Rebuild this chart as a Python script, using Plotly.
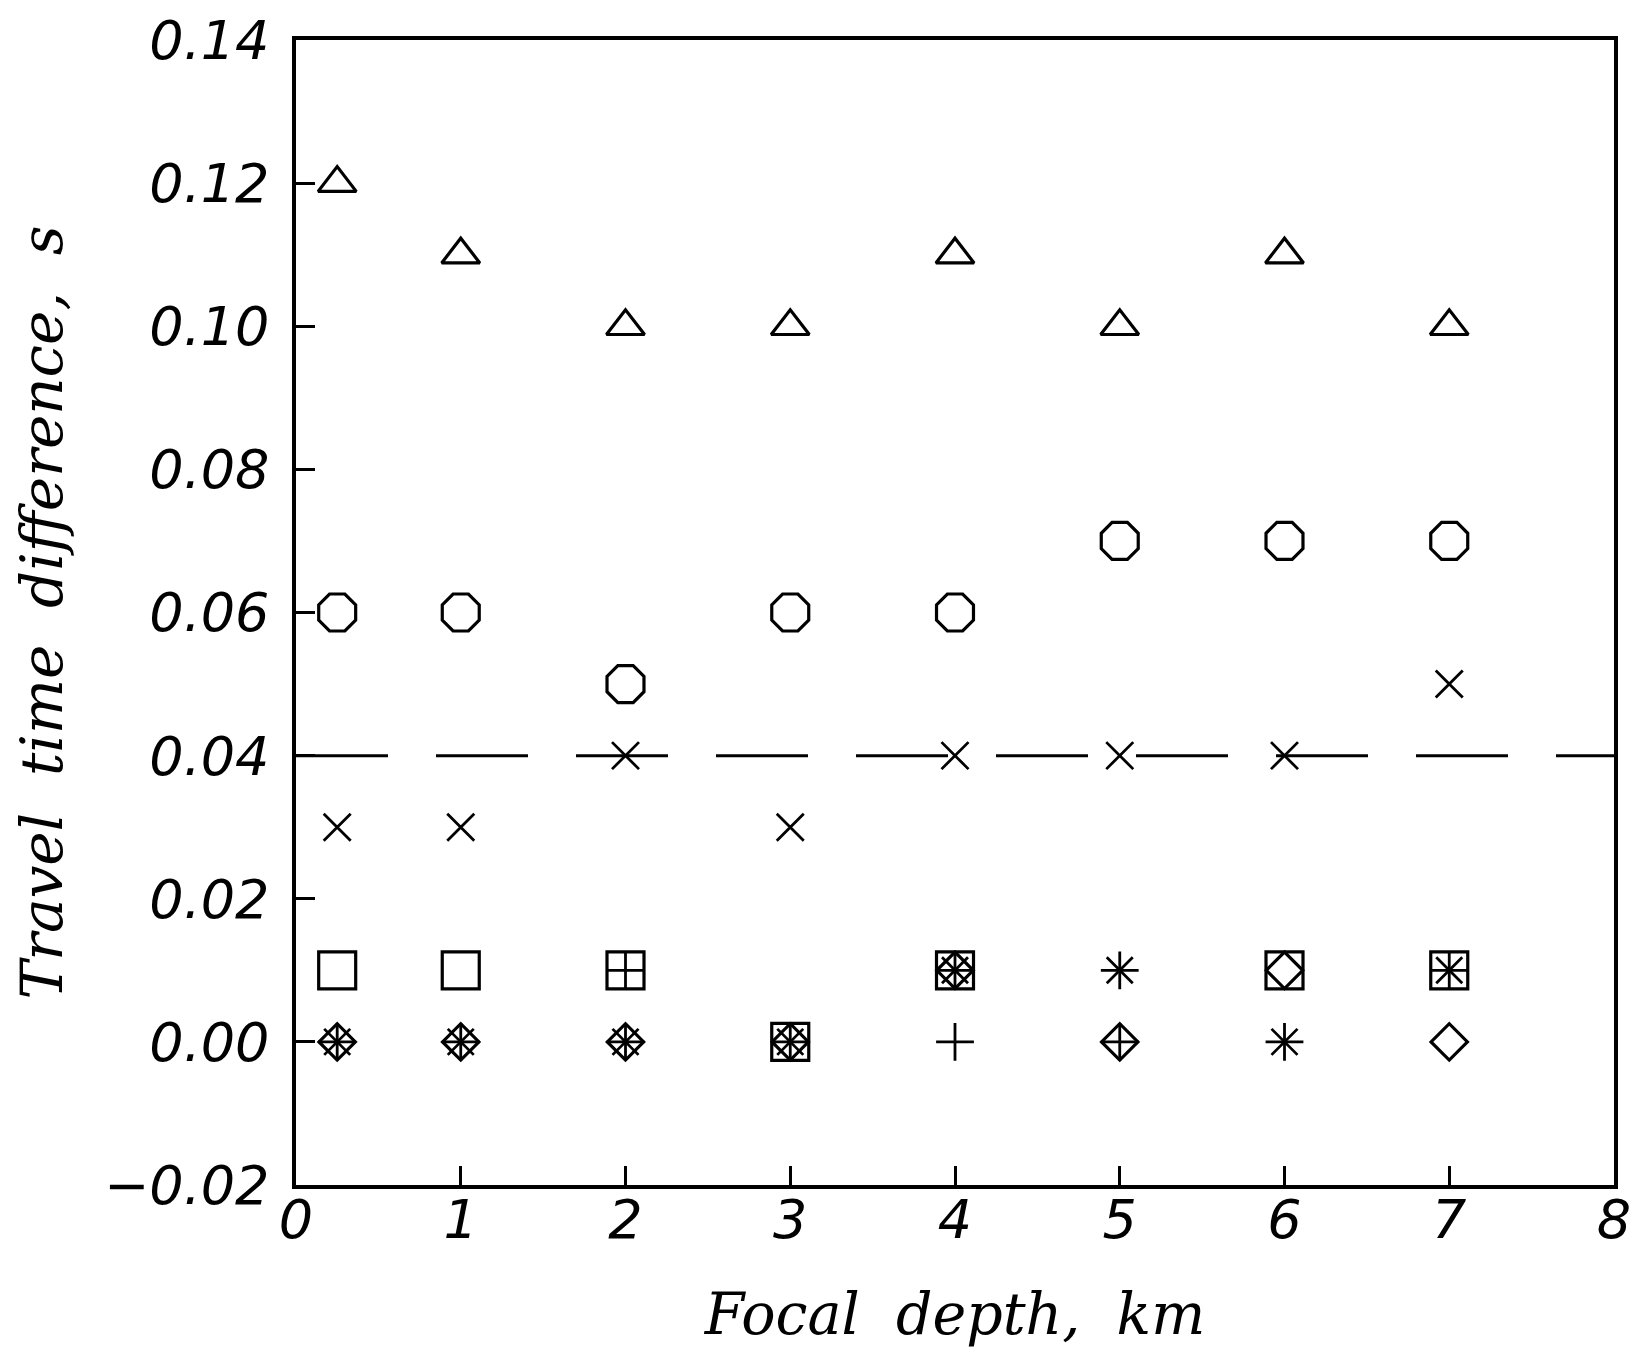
import plotly.graph_objects as go

# ---------------------------- data -----------------------

# focal depths (km) of the trial hypocentres
depth = [0.25, 1, 2, 3, 4, 5, 6, 7]

# travel time differences (s), one list per station symbol
dt_triangle = [0.12, 0.11, 0.10, 0.10, 0.11, 0.10, 0.11, 0.10]
dt_octagon = [0.06, 0.06, 0.05, 0.06, 0.06, 0.07, 0.07, 0.07]
dt_cross = [0.03, 0.03, 0.04, 0.03, 0.04, 0.04, 0.04, 0.05]

# stations with small differences (symbols pile up near zero)
square_depth = [0.25, 1, 2, 3, 4, 6, 7]
square_dt = [0.01, 0.01, 0.01, 0.00, 0.01, 0.01, 0.01]

plus_depth = [0.25, 1, 2, 2, 3, 4, 4, 5, 5, 6, 7]
plus_dt = [0.00, 0.00, 0.01, 0.00, 0.00, 0.01, 0.00, 0.01, 0.00, 0.00, 0.01]

xmark_depth = [0.25, 1, 2, 3, 4, 5, 6, 7]
xmark_dt = [0.00, 0.00, 0.00, 0.00, 0.01, 0.01, 0.00, 0.01]

diamond_depth = [0.25, 1, 2, 3, 4, 5, 6, 7]
diamond_dt = [0.00, 0.00, 0.00, 0.00, 0.01, 0.00, 0.01, 0.00]

# reading accuracy limit (s) and depth axis span
limit_dt = 0.04
depth_span = [0, 8]

y_ticks = [-0.02, 0.00, 0.02, 0.04, 0.06, 0.08, 0.10, 0.12, 0.14]
x_ticks = [0, 1, 2, 3, 4, 5, 6, 7, 8]

# ---------------------------- figure -----------------------

fig = go.Figure()

# dashed limit line
fig.add_trace(go.Scatter(
    x=depth_span, y=[limit_dt, limit_dt], mode="lines",
    line=dict(color="black", width=3, dash="92px,48px"),
))


def add_marks(x, y, symbol, size, width=3.2):
    fig.add_trace(go.Scatter(
        x=x, y=y, mode="markers",
        marker=dict(symbol=symbol, size=size, color="black",
                    line=dict(color="black", width=width)),
    ))


add_marks(depth, dt_triangle, "triangle-up-open", 33)
add_marks(depth, dt_octagon, "octagon-open", 40)
add_marks(depth, dt_cross, "x-thin-open", 27, 2.8)
add_marks(square_depth, square_dt, "square-open", 37)
add_marks(plus_depth, plus_dt, "cross-thin-open", 27, 2.8)
add_marks(xmark_depth, xmark_dt, "x-thin-open", 26, 2.8)
add_marks(diamond_depth, diamond_dt, "diamond-open", 28)

tick_font = dict(family="DejaVu Sans", size=54, color="black", style="italic")
title_font = dict(family="DejaVu Serif", size=58, color="black", style="italic")

fig.update_xaxes(
    range=depth_span, tickvals=x_ticks, ticks="inside", ticklen=19,
    tickwidth=2.5, tickcolor="black", showline=True, linewidth=3.5,
    linecolor="black", mirror=True, showgrid=False, zeroline=False,
    tickfont=tick_font, ticklabelstandoff=-16, automargin=False,
    title=dict(text="Focal\u00a0 depth,\u00a0 km",
               font=dict(title_font, size=57), standoff=46),
)
fig.update_yaxes(
    range=[-0.02, 0.14], tickvals=y_ticks, tickformat=".2f", ticks="inside",
    ticklen=19, tickwidth=2.5, tickcolor="black", showline=True,
    linewidth=3.5, linecolor="black", mirror=True, showgrid=False,
    zeroline=False, tickfont=tick_font, ticklabelstandoff=12, automargin=False,
    title=dict(text="Travel\u00a0 time\u00a0 difference,\u00a0 s", font=title_font,
               standoff=38),
)

fig.update_layout(
    width=1637, height=1350,
    margin=dict(l=288, r=31, t=32, b=173),
    paper_bgcolor="white", plot_bgcolor="white",
    showlegend=False,
)

fig.write_html("out.html")
